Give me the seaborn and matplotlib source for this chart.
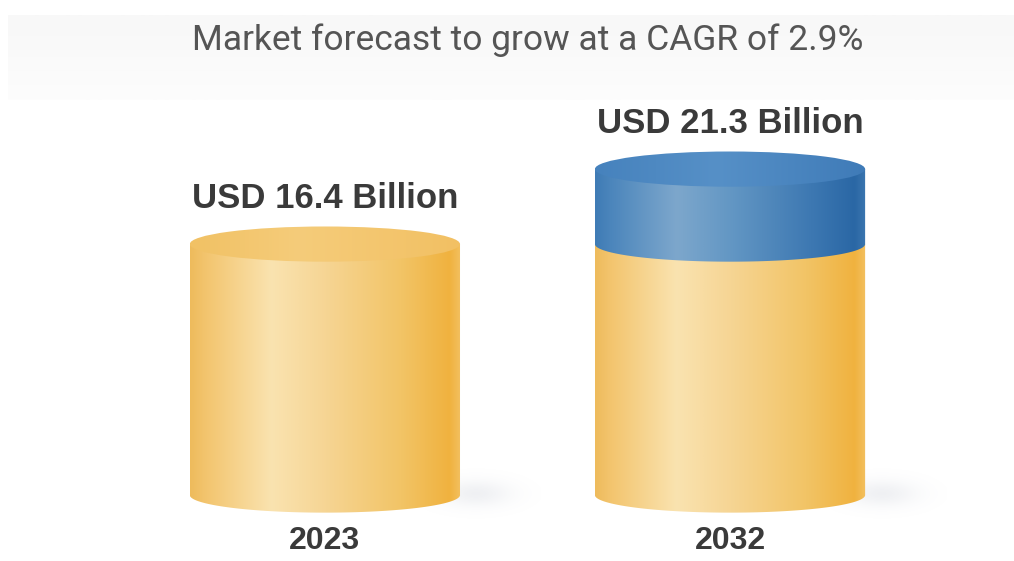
import numpy as np
import matplotlib
matplotlib.use("Agg")
import matplotlib.pyplot as plt
from matplotlib.colors import LinearSegmentedColormap
from matplotlib.patches import Ellipse, Polygon
import pandas as pd
import seaborn as sns

# Data
years = ["2023", "2032"]
base_values = [16.4, 16.4]      # part carried over from the 2023 market size
total_values = [16.4, 21.3]     # market size, USD billion
value_labels = ["USD 16.4 Billion", "USD 21.3 Billion"]
title = "Market forecast to grow at a CAGR of 2.9%"

sns.set_theme(style="white")
plt.rcParams["font.family"] = ["Roboto", "DejaVu Sans"]

BAR_W = 0.667          # cylinder width in category units
CAP_H = 2.3            # ellipse height of the cylinder caps (data units)

yellow_side = LinearSegmentedColormap.from_list(
    "yellow_side",
    [(0.0, "#eebb5c"), (0.06, "#f3c56f"), (0.30, "#fae3b0"), (0.50, "#f6d594"),
     (0.78, "#f2c466"), (0.96, "#f0b23f"), (1.0, "#f3c060")])
yellow_top = LinearSegmentedColormap.from_list(
    "yellow_top", [(0.0, "#f1c164"), (0.4, "#f5cc7a"), (1.0, "#f2c063")])
blue_side = LinearSegmentedColormap.from_list(
    "blue_side",
    [(0.0, "#3f7bb5"), (0.06, "#4c86bc"), (0.30, "#7da7cc"), (0.50, "#6397c4"),
     (0.80, "#3d78b2"), (0.96, "#2a67a5"), (1.0, "#3b76b0")])
blue_top = LinearSegmentedColormap.from_list(
    "blue_top", [(0.0, "#4682bd"), (0.45, "#5690c7"), (1.0, "#3f7bb8")])

fig = plt.figure(figsize=(10.14, 5.61), dpi=100)

# light header band behind the title
hdr = fig.add_axes([0.008, 1 - 100 / 561, 0.992, 85 / 561], zorder=0)
hdr.imshow(np.linspace(0, 1, 64).reshape(-1, 1), cmap=LinearSegmentedColormap.from_list(
    "hdr", ["#f8f8f8", "#fafafa", "#fdfdfd"]), aspect="auto", extent=[0, 1, 0, 1])
hdr.axis("off")

ax = fig.add_axes([0, 0, 1, 1], zorder=1)
ax.patch.set_alpha(0)

df = pd.DataFrame({"year": years, "base": base_values, "total": total_values})
sns.barplot(data=df, x="year", y="total", color="#3f7ab5", width=BAR_W, ax=ax, zorder=1)
sns.barplot(data=df, x="year", y="base", color="#f3c66d", width=BAR_W, ax=ax, zorder=1)

XLIM = (-0.802, 1.701)
YLIM = (-4.31, 32.35)

grad = np.linspace(0, 1, 256).reshape(1, -1)


def body(cx, y0, y1, cmap, z):
    """Side of a cylinder segment from y0 to y1 with a rounded lower edge."""
    x0 = cx - BAR_W / 2
    th = np.linspace(np.pi, 2 * np.pi, 120)
    pts = np.column_stack([cx + BAR_W / 2 * np.cos(th), y0 + CAP_H / 2 * np.sin(th)])
    pts = np.vstack([pts, [[x0 + BAR_W, y1], [x0, y1]]])
    poly = Polygon(pts, closed=True, facecolor="none", edgecolor="none")
    ax.add_patch(poly)
    im = ax.imshow(grad, cmap=cmap, aspect="auto", interpolation="bicubic",
                   extent=[x0, x0 + BAR_W, y0 - CAP_H / 2, y1], zorder=z)
    im.set_clip_path(poly)


def cap(cx, y, cmap, z):
    x0 = cx - BAR_W / 2
    ell = Ellipse((cx, y), BAR_W, CAP_H, facecolor="none", edgecolor="none")
    ax.add_patch(ell)
    im = ax.imshow(grad, cmap=cmap, aspect="auto", interpolation="bicubic",
                   extent=[x0, x0 + BAR_W, y - CAP_H / 2, y + CAP_H / 2], zorder=z)
    im.set_clip_path(ell)


def shadow(cx):
    # faint floor shadow to the right of each cylinder
    xs = np.linspace(-1, 1, 160)
    ys = np.linspace(-1, 1, 80)
    X, Y = np.meshgrid(xs, ys)
    a = np.exp(-(X ** 2) * 3.5 - (Y ** 2) * 4) * 0.16
    rgba = np.zeros((80, 160, 4))
    rgba[..., 0] = 0.62
    rgba[..., 1] = 0.65
    rgba[..., 2] = 0.72
    rgba[..., 3] = a
    ax.imshow(rgba, aspect="auto", interpolation="bilinear",
              extent=[cx + BAR_W / 2 - 0.12, cx + BAR_W / 2 + 0.2, -1.6, 1.8], zorder=2)


for i, (b, t) in enumerate(zip(base_values, total_values)):
    shadow(i)
    body(i, 0, b, yellow_side, 3)
    if t > b:
        body(i, b, t, blue_side, 4)
        cap(i, t, blue_top, 5)
    else:
        cap(i, b, yellow_top, 5)

# value labels above the caps and year labels under the bases
for i, (t, lab, yr) in enumerate(zip(total_values, value_labels, years)):
    ax.annotate(lab, (i, t), xytext=(0, 32.5), textcoords="offset points",
                ha="center", va="center", fontsize=25, fontweight="bold",
                color="#3a3a3a", family=["Liberation Sans", "DejaVu Sans"], zorder=6)
    ax.annotate(yr, (i, 0), xytext=(0, -33), textcoords="offset points",
                ha="center", va="center", fontsize=23, fontweight="bold",
                color="#3a3a3a", family=["Liberation Sans", "DejaVu Sans"], zorder=6)

fig.text(0.52, 1 - 40 / 561, title, ha="center", va="center", fontsize=25.5,
         color="#555555", zorder=3)

ax.set_xlim(*XLIM)
ax.set_ylim(*YLIM)
ax.axis("off")

fig.savefig("out.png", dpi=100)
